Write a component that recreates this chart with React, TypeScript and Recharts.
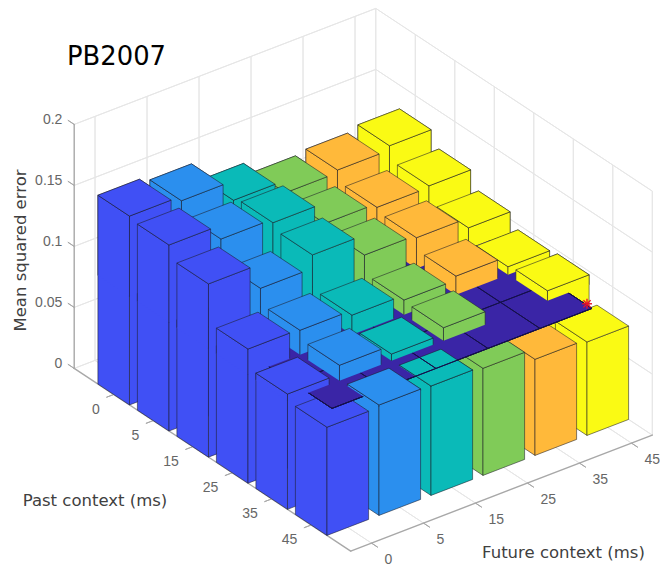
import React from "react"
import { ScatterChart, Scatter, XAxis, YAxis } from "recharts"

// mean squared error, one list per past context, left to right by future context
const past0 = [0.1548, 0.151, 0.135, 0.1248, 0.127, 0.1305]
const past5 = [0.1525, 0.141, 0.138, 0.121, 0.1178, 0.119]
const past15 = [0.142, 0.122, 0.133, 0.1165, 0.1143, 0.106]
const past25 = [0.11, 0.109, 0.105, 0.101, 0.1042, 0.0955]
const past35 = [0.0945, 0.1017, 0.0945, 0.0997, 0.085, 0.0972]
const past45 = [0.0887, 0.0905, 0.0897, 0.0878, 0.0788, 0.0766]
const mse = [past0, past5, past15, past25, past35, past45]

const contextLabels = ["0", "5", "15", "25", "35", "45"]
const errorTicks = [0, 0.05, 0.1, 0.15, 0.2]
const columnColors = ["#4050f5", "#2b8fee", "#0abab8", "#80cb58", "#ffb93a", "#fafa14"]

const floorLevel = 0.089 // the flat sheet the short bars poke through
const bestPoint = { past: 4.9, future: 4.98, error: 0.091 }

const pastLim = [-1, 6]
const futureLim = [-0.4, 5.4]
const errorLim = [0, 0.2]
const barHalf = 0.4

// orthographic view, in units of one future-context step
const project = (past: number, future: number, error: number) => ({
  x: past * 0.7596 + future,
  y: -past * 0.5019 + future * 0.3846 + error * 23.46,
})
const page = (x: number, y: number) => ({ x: (x - 134.5) / 52, y: (386.5 - y) / 52 })

type Pt = { x: number; y: number; text?: string }

const polygonLine = (fill: string, stroke: string, width: number, open: boolean) => (p: any) => {
  const pts = p.points.map((q: any) => `${q.x},${q.y}`)
  if (!open) {
    return (
      <polygon points={pts.join(" ")} fill={fill} stroke={stroke} strokeWidth={width} strokeLinejoin="round" />
    )
  }
  // leave the base edge unstroked, it sits on the sheet
  const outline = [...pts.slice(1), pts[0]].join(" ")
  return (
    <g>
      <polygon points={pts.join(" ")} fill={fill} stroke="none" />
      <polyline points={outline} fill="none" stroke={stroke} strokeWidth={width} strokeLinejoin="round" />
    </g>
  )
}

const noDot = () => null

const face = (key: string, pts: Pt[], fill: string, stroke: string, width = 1, open = false) => (
  <Scatter
    key={key}
    data={pts}
    isAnimationActive={false}
    shape={noDot}
    line={polygonLine(fill, stroke, width, open)}
  />
)

const EDGE = "rgba(30,30,40,0.55)"

// the two faces we can see plus the top, from base up to height
const barFaces = (key: string, i: number, j: number, base: number, top: number, open: boolean) => {
  const color = columnColors[j]
  const i0 = i - barHalf
  const i1 = i + barHalf
  const j0 = j - barHalf
  const j1 = j + barHalf
  return [
    face(`${key}-l`, [project(i0, j0, base), project(i1, j0, base), project(i1, j0, top), project(i0, j0, top)], color, EDGE, 1, open),
    face(`${key}-r`, [project(i1, j0, base), project(i1, j1, base), project(i1, j1, top), project(i1, j0, top)], color, EDGE, 1, open),
    face(`${key}-t`, [project(i0, j0, top), project(i1, j0, top), project(i1, j1, top), project(i0, j1, top)], color, EDGE),
  ]
}

const GRID = "#e6e6e6"
const AXIS = "#a8a8a8"
const seg = (key: string, a: Pt, b: Pt, stroke: string, width = 1) =>
  face(key, [a, b], "none", stroke, width)

const gridLines = () => {
  const out: React.ReactNode[] = []
  const [i0, i1] = pastLim
  const [j0, j1] = futureLim
  const zTop = errorLim[1]
  contextLabels.forEach((_, k) => {
    out.push(seg(`gf${k}`, project(i0, k, 0), project(i1, k, 0), GRID))
    out.push(seg(`gl${k}`, project(i0, k, 0), project(i0, k, zTop), GRID))
    out.push(seg(`gp${k}`, project(k, j0, 0), project(k, j1, 0), GRID))
    out.push(seg(`gr${k}`, project(k, j1, 0), project(k, j1, zTop), GRID))
  })
  errorTicks.forEach((z, k) => {
    out.push(seg(`gzl${k}`, project(i0, j0, z), project(i0, j1, z), GRID))
    out.push(seg(`gzr${k}`, project(i0, j1, z), project(i1, j1, z), GRID))
  })
  out.push(seg("gb", project(i0, j1, 0), project(i0, j1, zTop), GRID))
  out.push(seg("ge", project(i1, j1, 0), project(i1, j1, zTop), GRID))
  return out
}

const axisLines = () => {
  const out: React.ReactNode[] = []
  const [i0, i1] = pastLim
  const [j0, j1] = futureLim
  out.push(seg("az", project(i0, j0, 0), project(i0, j0, errorLim[1]), AXIS, 1.4))
  out.push(seg("ap", project(i0, j0, 0), project(i1, j0, 0), AXIS, 1.4))
  out.push(seg("af", project(i1, j0, 0), project(i1, j1, 0), AXIS, 1.4))
  errorTicks.forEach((z, k) => {
    out.push(seg(`tz${k}`, project(i0, j0, z), project(i0 - 0.16, j0, z), AXIS))
  })
  contextLabels.forEach((_, k) => {
    out.push(seg(`tp${k}`, project(k, j0, 0), project(k, j0 - 0.14, 0), AXIS))
    out.push(seg(`tf${k}`, project(i1, k, 0), project(i1 + 0.16, k, 0), AXIS))
  })
  return out
}

const bars = () => {
  const full: React.ReactNode[] = []
  const low: React.ReactNode[] = []
  const high: React.ReactNode[] = []
  mse.forEach((row, i) => {
    for (let j = row.length - 1; j >= 0; j--) {
      full.push(...barFaces(`b${i}-${j}`, i, j, 0, row[j], false))
      if (row[j] <= floorLevel) continue
      // barely above the sheet: its mesh lines still show through
      const bucket = row[j] < floorLevel + 0.001 ? low : high
      bucket.push(...barFaces(`u${i}-${j}`, i, j, floorLevel, row[j], true))
    }
  })
  return { full, low, high }
}

const sheetLines = () => {
  const out: React.ReactNode[] = []
  const last = contextLabels.length - 1
  contextLabels.forEach((_, k) => {
    out.push(seg(`sa${k}`, project(k, 0, floorLevel), project(k, last, floorLevel), "#15104a", 1))
    out.push(seg(`sb${k}`, project(0, k, floorLevel), project(last, k, floorLevel), "#15104a", 1))
  })
  return out
}

const TextMark = (p: any) => {
  const t = p.payload
  return (
    <text
      x={p.cx}
      y={p.cy}
      textAnchor={t.anchor}
      dominantBaseline="central"
      fontFamily={t.family}
      fontSize={t.size}
      fill={t.color}
      transform={t.rotate ? `rotate(${t.rotate} ${p.cx} ${p.cy})` : undefined}
    >
      {t.text}
    </text>
  )
}

const Asterisk = (p: any) => (
  <g stroke="#e8102c" strokeWidth={1.4}>
    <line x1={p.cx - 5} y1={p.cy} x2={p.cx + 5} y2={p.cy} />
    <line x1={p.cx} y1={p.cy - 5} x2={p.cx} y2={p.cy + 5} />
    <line x1={p.cx - 3.6} y1={p.cy - 3.6} x2={p.cx + 3.6} y2={p.cy + 3.6} />
    <line x1={p.cx - 3.6} y1={p.cy + 3.6} x2={p.cx + 3.6} y2={p.cy - 3.6} />
  </g>
)

const TICK_FONT = "'Liberation Sans', Arial, sans-serif"
const TITLE_FONT = "'DejaVu Sans', sans-serif"
const tickStyle = { family: TICK_FONT, size: 14, color: "#666666" }
const titleStyle = { family: TITLE_FONT, size: 16.5, color: "#404040", anchor: "middle" }

const tickTexts = [
  ...errorTicks.map((z) => {
    const at = project(pastLim[0] - 0.3, futureLim[0], z)
    return { x: at.x, y: at.y - 2 / 52, ...tickStyle, anchor: "end", text: String(z) }
  }),
  ...contextLabels.map((text, k) => ({
    ...project(k + 0.221, futureLim[0] - 0.436, 0),
    ...tickStyle,
    anchor: "end",
    text,
  })),
  ...contextLabels.map((text, k) => ({
    ...project(pastLim[1] + 0.509, k - 0.136, 0),
    ...tickStyle,
    anchor: "start",
    text,
  })),
]

const titleTexts = [
  { ...page(116.5, 56), family: TITLE_FONT, size: 25.8, color: "#000000", anchor: "middle", text: "PB2007" },
  { ...page(95, 500), ...titleStyle, text: "Past context (ms)" },
  { ...page(563.5, 552), ...titleStyle, text: "Future context (ms)" },
  { ...page(20.5, 250.5), ...titleStyle, rotate: -90, text: "Mean squared error" },
]

export default function App() {
  const { full, low, high } = bars()
  const last = contextLabels.length - 1
  return (
    <div style={{ position: "absolute", left: 0, top: 0 }}>
      <ScatterChart width={660} height={565} margin={{ top: 0, right: 0, bottom: 0, left: 0 }}>
        <XAxis type="number" dataKey="x" hide domain={[-134.5 / 52, 525.5 / 52]} allowDataOverflow />
        <YAxis type="number" dataKey="y" hide domain={[-178.5 / 52, 386.5 / 52]} allowDataOverflow />
        {gridLines()}
        {axisLines()}
        {full}
        {face(
          "sheet",
          [
            project(0, 0, floorLevel),
            project(last, 0, floorLevel),
            project(last, last, floorLevel),
            project(0, last, floorLevel),
          ],
          "#3a25a6",
          "#15104a",
        )}
        {low}
        {sheetLines()}
        {high}
        <Scatter
          data={[project(bestPoint.past, bestPoint.future, bestPoint.error)]}
          isAnimationActive={false}
          shape={Asterisk}
        />
        <Scatter data={tickTexts} isAnimationActive={false} shape={TextMark} />
        <Scatter data={titleTexts} isAnimationActive={false} shape={TextMark} />
      </ScatterChart>
    </div>
  )
}
